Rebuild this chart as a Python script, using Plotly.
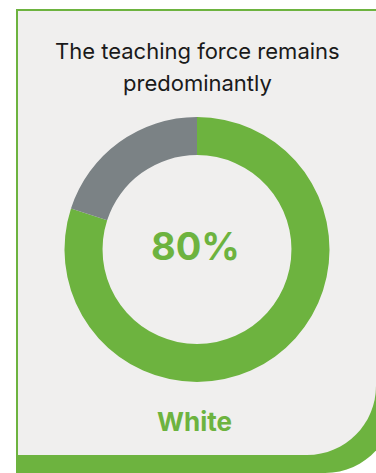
import plotly.graph_objects as go

categories = ["White", "Other"]
values = [80, 20]
slice_colors = ["#6DB33F", "#7B8285"]
title_lines = ["The teaching force remains", "predominantly"]
highlight_label = "White"

W, H = 376, 473
GREEN = "#6DB33F"
CARD = "#F0EFEE"
FONT = "Inter"

pct = round(100 * values[0] / sum(values))

fig = go.Figure()
fig.add_trace(go.Pie(
    labels=categories, values=values, sort=False, direction="clockwise",
    rotation=0, hole=0.713, marker=dict(colors=slice_colors, line=dict(width=0)),
    textinfo="none", hoverinfo="label+percent", showlegend=False,
    domain=dict(x=[(197 - 132.5) / W, (197 + 132.5) / W],
                y=[1 - 382 / H, 1 - 117 / H]),
))

k = 0.5523 * 69
green_path = (f"M16,9 L394,9 L394,404 C394,{404 + k} {325 + k},473 325,473 "
              f"L16,473 Z")
card_path = (f"M18,11 L376,11 L376,386 C376,{386 + k} {307 + k},455 307,455 "
             f"L18,455 Z")

fig.update_layout(
    width=W, height=H, margin=dict(l=0, r=0, t=0, b=0),
    paper_bgcolor="white", plot_bgcolor="rgba(0,0,0,0)",
    xaxis=dict(range=[0, W], visible=False, fixedrange=True),
    yaxis=dict(range=[H, 0], visible=False, fixedrange=True),
    shapes=[
        dict(type="path", path=green_path, xref="x", yref="y", layer="below",
             fillcolor=GREEN, line=dict(width=0)),
        dict(type="path", path=card_path, xref="x", yref="y", layer="below",
             fillcolor=CARD, line=dict(width=0)),
    ],
    annotations=[
        dict(text=title_lines[0], x=197, y=51, xref="x", yref="y",
             showarrow=False, font=dict(family=FONT, size=22, color="#1a1a1a")),
        dict(text=title_lines[1], x=197, y=83, xref="x", yref="y",
             showarrow=False, font=dict(family=FONT, size=22, color="#1a1a1a")),
        dict(text=f"<b>{pct}%</b>", x=195, y=246, xref="x", yref="y",
             showarrow=False, font=dict(family=FONT, size=38, color=GREEN)),
        dict(text=f"<b>{highlight_label}</b>", x=194, y=421, xref="x", yref="y",
             showarrow=False, font=dict(family=FONT, size=26, color=GREEN)),
    ],
)
fig.write_html("out.html")
